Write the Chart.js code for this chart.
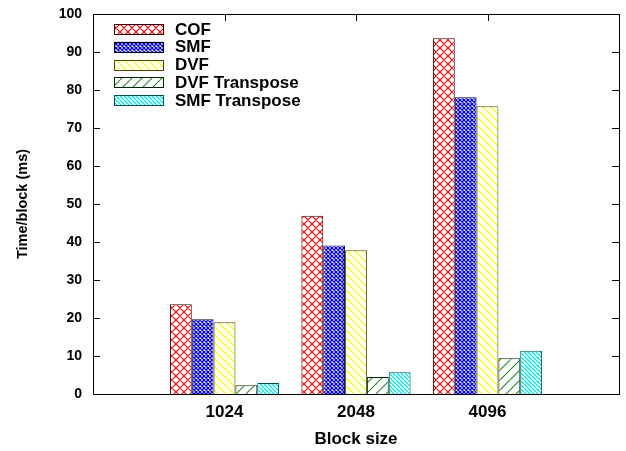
<!DOCTYPE html>
<html>
<head>
<meta charset="utf-8">
<title>Time per block</title>
<script src="https://cdn.jsdelivr.net/npm/chart.js@4"></script>
<style>
  body { margin: 0; background: #fff; }
</style>
</head>
<body>
<canvas id="blockChart" width="626" height="451"></canvas>
<script>
// Block sizes and timings (ms per block)
const blockSizes = ['1024', '2048', '4096'];
const cofTimes = [23.6, 46.9, 93.6];
const smfTimes = [19.7, 39.1, 78.1];
const dvfTimes = [18.9, 37.8, 75.7];
const dvfTransposeTimes = [2.3, 4.5, 9.4];
const smfTransposeTimes = [2.9, 5.7, 11.4];
const yTicks = [0, 10, 20, 30, 40, 50, 60, 70, 80, 90, 100];

const FONT = "'Liberation Sans', Arial, Helvetica, sans-serif";

// small tiled hatch patterns, gnuplot style
function hatch(size, color, lineWidth, dirs) {
    const c = document.createElement('canvas');
    c.width = c.height = size;
    const g = c.getContext('2d');
    g.fillStyle = '#fff';
    g.fillRect(0, 0, size, size);
    g.strokeStyle = color;
    g.lineWidth = lineWidth;
    g.beginPath();
    for (const d of dirs) {
        for (const k of [-size, 0, size]) {
            if (d === '/') { g.moveTo(k, size); g.lineTo(k + size, 0); }
            else { g.moveTo(k, 0); g.lineTo(k + size, size); }
        }
    }
    g.stroke();
    return g.createPattern(c, 'repeat');
}

const ctx = document.getElementById('blockChart').getContext('2d');

// pad the category axis with an empty slot on each side
const labels = ['', ...blockSizes, ''];
const pad = arr => [null, ...arr, null];

const series = [
    { label: 'COF', data: cofTimes, bg: hatch(8, '#ff0000', 1.2, ['/', '\\']), border: '#3a0000' },
    { label: 'SMF', data: smfTimes, bg: hatch(4, '#0000ff', 1.3, ['/', '\\']), border: '#000022' },
    { label: 'DVF', data: dvfTimes, bg: hatch(8, '#ffff00', 1.3, ['\\']), border: '#4a4a00' },
    { label: 'DVF Transpose', data: dvfTransposeTimes, bg: hatch(10, '#2e8b2e', 1.2, ['/']), border: '#002800' },
    { label: 'SMF Transpose', data: smfTransposeTimes, bg: hatch(4, '#00e5e5', 1.3, ['\\']), border: '#005050' }
];

// frame plus inward ticks on all four sides
const framePlugin = {
    id: 'frame',
    beforeDatasetsDraw(chart) {
        const { ctx, chartArea: a, scales } = chart;
        const len = 7;
        ctx.save();
        ctx.strokeStyle = '#000';
        ctx.lineWidth = 1;
        ctx.beginPath();
        yTicks.forEach(v => {
            const y = Math.round(scales.y.getPixelForValue(v)) + 0.5;
            ctx.moveTo(a.left, y); ctx.lineTo(a.left + len, y);
            ctx.moveTo(a.right, y); ctx.lineTo(a.right - len, y);
        });
        blockSizes.forEach(s => {
            const x = Math.round(scales.x.getPixelForValue(labels.indexOf(s))) + 0.5;
            ctx.moveTo(x, a.top); ctx.lineTo(x, a.top + len);
            ctx.moveTo(x, a.bottom); ctx.lineTo(x, a.bottom - len);
        });
        ctx.stroke();
        ctx.strokeRect(Math.round(a.left) + 0.5, Math.round(a.top) + 0.5,
            Math.round(a.right - a.left), Math.round(a.bottom - a.top));
        ctx.restore();
    }
};

// key in the upper left corner of the plot
const keyPlugin = {
    id: 'key',
    afterDatasetsDraw(chart) {
        const { ctx, chartArea: a } = chart;
        ctx.save();
        ctx.font = 'bold 17px ' + FONT;
        ctx.textBaseline = 'middle';
        chart.data.datasets.forEach((ds, i) => {
            const cy = a.top + 15 + i * 17.8;
            const x = a.left + 21;
            ctx.fillStyle = ds.backgroundColor;
            ctx.fillRect(x, cy - 5, 49, 10);
            ctx.strokeStyle = ds.borderColor;
            ctx.lineWidth = 1;
            ctx.strokeRect(x + 0.5, Math.round(cy - 5) + 0.5, 49, 10);
            ctx.fillStyle = '#000';
            ctx.fillText(ds.label, a.left + 82, cy + 1);
        });
        ctx.restore();
    }
};

new Chart(ctx, {
    type: 'bar',
    data: {
        labels: labels,
        datasets: series.map(s => ({
            label: s.label,
            data: pad(s.data),
            backgroundColor: s.bg,
            borderColor: s.border,
            borderWidth: 1,
            borderSkipped: 'bottom',
            categoryPercentage: 0.83,
            barPercentage: 1
        }))
    },
    options: {
        responsive: false,
        animation: false,
        devicePixelRatio: 1,
        layout: { padding: { top: 14, right: 7, left: 0, bottom: 0 } },
        scales: {
            x: {
                offset: false,
                grid: { display: false },
                border: { display: false },
                ticks: {
                    color: '#000',
                    padding: 0,
                    autoSkip: false,
                    maxRotation: 0,
                    font: { family: FONT, size: 17, weight: 'bold' }
                },
                title: {
                    display: true,
                    text: 'Block size',
                    color: '#000',
                    padding: { top: 0, bottom: 1 },
                    font: { family: FONT, size: 17, weight: 'bold' }
                },
                afterFit(scale) { scale.height = 57; }
            },
            y: {
                min: 0,
                max: 100,
                grid: { display: false },
                border: { display: false },
                ticks: {
                    stepSize: 10,
                    color: '#000',
                    padding: 3,
                    font: { family: FONT, size: 14, weight: 'bold' }
                },
                title: {
                    display: true,
                    text: 'Time/block (ms)',
                    color: '#000',
                    padding: { top: 14, bottom: 0 },
                    font: { family: FONT, size: 14.5, weight: 'bold' }
                },
                afterFit(scale) { scale.width = 93; }
            }
        },
        plugins: {
            legend: { display: false },
            tooltip: { enabled: false }
        }
    },
    plugins: [framePlugin, keyPlugin]
});
</script>
</body>
</html>
